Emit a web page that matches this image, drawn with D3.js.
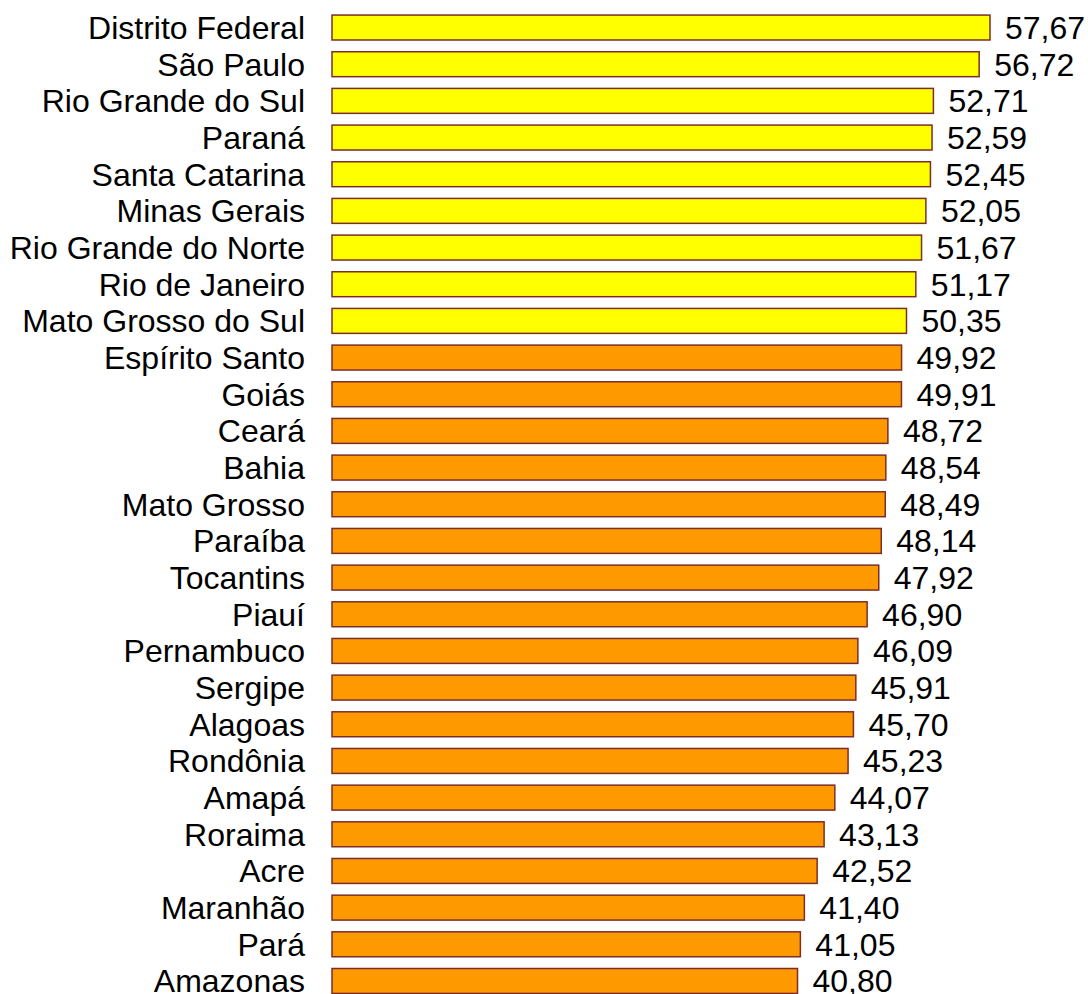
<html>
<head>
<script src="https://cdn.jsdelivr.net/npm/d3@7"></script>
<style>
  body { margin: 0; background: #fff; }
  svg { display: block; }
  text { font-family: "Liberation Sans", Arial, sans-serif; fill: #000; }
</style>
</head>
<body>
<div id="container"></div>
<script>
var states = ["Distrito Federal", "São Paulo", "Rio Grande do Sul", "Paraná", "Santa Catarina",
  "Minas Gerais", "Rio Grande do Norte", "Rio de Janeiro", "Mato Grosso do Sul", "Espírito Santo",
  "Goiás", "Ceará", "Bahia", "Mato Grosso", "Paraíba", "Tocantins", "Piauí", "Pernambuco",
  "Sergipe", "Alagoas", "Rondônia", "Amapá", "Roraima", "Acre", "Maranhão", "Pará", "Amazonas"];
var values = [57.67, 56.72, 52.71, 52.59, 52.45, 52.05, 51.67, 51.17, 50.35, 49.92,
  49.91, 48.72, 48.54, 48.49, 48.14, 47.92, 46.90, 46.09, 45.91, 45.70,
  45.23, 44.07, 43.13, 42.52, 41.40, 41.05, 40.80];
var valueLabels = ["57,67", "56,72", "52,71", "52,59", "52,45", "52,05", "51,67", "51,17", "50,35", "49,92",
  "49,91", "48,72", "48,54", "48,49", "48,14", "47,92", "46,90", "46,09", "45,91", "45,70",
  "45,23", "44,07", "43,13", "42,52", "41,40", "41,05", "40,80"];
var highGroup = 9; // first 9 bars are yellow

var data = states.map(function(s, i){ return {name: s, value: values[i], label: valueLabels[i], i: i}; });

var width = 1088, height = 994;
var svg = d3.select("#container").append("svg")
  .attr("width", width).attr("height", height);

var x = d3.scaleLinear().domain([0, 57.67]).range([332, 990]);
var y = d3.scaleBand().domain(states).range([9.2, 999.3]).paddingInner(0.32).paddingOuter(0.16);

svg.selectAll("rect.bar").data(data).enter().append("rect")
  .attr("class", "bar")
  .attr("x", x(0))
  .attr("y", function(d){ return y(d.name); })
  .attr("width", function(d){ return x(d.value) - x(0); })
  .attr("height", y.bandwidth())
  .attr("fill", function(d){ return d.i < highGroup ? "#ffff00" : "#ff9900"; })
  .attr("stroke", "#7a2e2a")
  .attr("stroke-width", 1.5);

svg.selectAll("text.cat").data(data).enter().append("text")
  .attr("class", "cat")
  .attr("x", 305)
  .attr("y", function(d){ return y(d.name) + y.bandwidth() / 2; })
  .attr("dy", "0.36em")
  .attr("text-anchor", "end")
  .attr("font-size", 32)
  .text(function(d){ return d.name; });

svg.selectAll("text.val").data(data).enter().append("text")
  .attr("class", "val")
  .attr("x", function(d){ return x(d.value) + 15; })
  .attr("y", function(d){ return y(d.name) + y.bandwidth() / 2; })
  .attr("dy", "0.36em")
  .attr("font-size", 32)
  .text(function(d){ return d.label; });
</script>
</body>
</html>
